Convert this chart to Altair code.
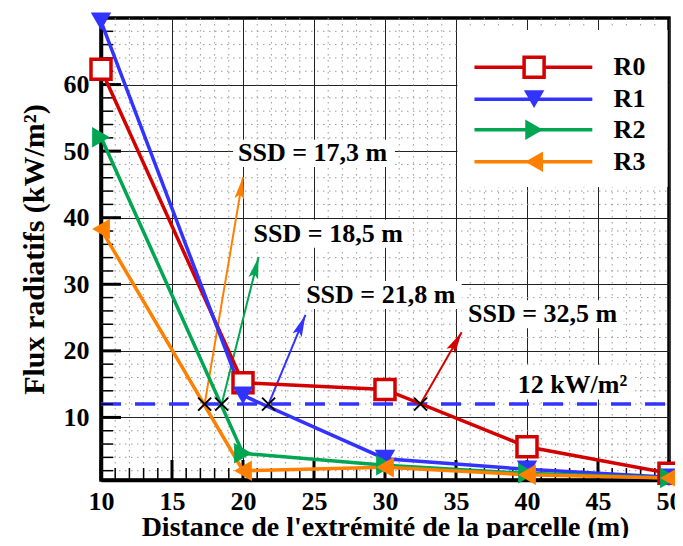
import altair as alt
import pandas as pd
import numpy as np

# ---------------- data ----------------
x_vals = [10, 20, 30, 40, 50]
r0 = [62.3, 15.2, 14.2, 5.6, 1.6]
r1 = [69.5, 13.3, 3.8, 2.2, 1.0]
r2 = [52.1, 4.6, 2.8, 1.6, 0.9]
r3 = [38.3, 2.0, 2.5, 1.4, 0.9]
series = ["R0", "R1", "R2", "R3"]
colors = ["#d40000", "#3333ff", "#00a651", "#ff8000"]
shapes = ["square", "triangle-down", "triangle-right", "triangle-left"]

threshold = 12
ssd = [17.3, 18.5, 21.8, 32.5]
ssd_colors = ["#ff8000", "#00a651", "#3333ff", "#d40000"]
arrow_tip_x = [20.0, 21.1, 24.4, 35.4]
arrow_tip_y = [46.1, 34.1, 25.4, 22.8]

ann_text = ["SSD = 17,3 m", "SSD = 18,5 m", "SSD = 21,8 m", "SSD = 32,5 m", "12 kW/m²"]
ann_x = [24.9, 26.0, 29.7, 41.1, 43.2]
ann_y = [49.7, 37.6, 28.4, 25.5, 14.9]
# white boxes behind texts + legend box (data units)
box_x1 = [19.3, 20.5, 24.0, 35.4, 38.8, 35.1]
box_x2 = [30.7, 31.6, 35.4, 46.8, 47.4, 49.9]
box_y1 = [47.6, 35.5, 26.3, 23.4, 12.7, 44.6]
box_y2 = [51.7, 39.7, 30.5, 27.6, 17.9, 68.2]

leg_y = [62.6, 57.8, 53.2, 48.4]
leg_x1, leg_x2, leg_sym_x, leg_txt_x = 36.3, 44.6, 40.5, 46.1

x_ticks = [10, 15, 20, 25, 30, 35, 40, 45, 50]
y_ticks = [10, 20, 30, 40, 50, 60]
x_minor = [v for v in range(11, 50) if v % 5 != 0]
y_minor = [v for v in range(2, 70, 2) if v % 10 != 0]

# ---------------- layout ----------------
W, H = 568, 462
XMIN, XMAX, YMIN, YMAX = 10, 50, 0.6, 70
xs = alt.Scale(domain=[XMIN, XMAX], nice=False, zero=False)
ys = alt.Scale(domain=[YMIN, YMAX], nice=False, zero=False)
FONT = "Liberation Serif"
px_x = W / (XMAX - XMIN)
px_y = H / (YMAX - YMIN)

rows = []
for name, vals in zip(series, [r0, r1, r2, r3]):
    for xv, yv in zip(x_vals, vals):
        rows.append({"serie": name, "x": xv, "y": yv})
df = pd.DataFrame(rows)

color_scale = alt.Scale(domain=series, range=colors)
shape_scale = alt.Scale(domain=series, range=shapes)

axis_x = alt.Axis(values=x_ticks, grid=True, gridColor="#222", gridWidth=1,
                  ticks=False, tickSize=0, labelPadding=8, labelFlush=False,
                  title="Distance de l'extrémité de la parcelle (m)",
                  titleY=55, titleBaseline="alphabetic", titleFontSize=28,
                  domainColor="black", domainWidth=3.5)
axis_y = alt.Axis(values=y_ticks, grid=True, gridColor="#222", gridWidth=1,
                  ticks=False, tickSize=0, labelPadding=12, labelFlush=False,
                  title="Flux radiatifs (kW/m²)", titlePadding=14, titleFontSize=30,
                  domainColor="black", domainWidth=3.5)

X = lambda f: alt.X(f, scale=xs, axis=axis_x)
Y = lambda f: alt.Y(f, scale=ys, axis=axis_y)

# minor dotted grid
vminor = alt.Chart(pd.DataFrame({"v": x_minor})).mark_rule(
    color="#9a9a9a", strokeWidth=1, strokeDash=[1.5, 4.5]).encode(
    x=X("v:Q"), y=alt.value(0), y2=alt.value(H))
hminor = alt.Chart(pd.DataFrame({"v": y_minor})).mark_rule(
    color="#9a9a9a", strokeWidth=1, strokeDash=[1.5, 4.5]).encode(
    y=Y("v:Q"), x=alt.value(0), x2=alt.value(W))

# white boxes
boxes = alt.Chart(pd.DataFrame({"x1": box_x1, "x2": box_x2, "y1": box_y1, "y2": box_y2})).mark_rect(
    color="white").encode(x=X("x1:Q"), x2="x2:Q", y=Y("y1:Q"), y2="y2:Q")

# threshold dashed line
thr = alt.Chart(pd.DataFrame({"y": [threshold]})).mark_rule(
    color="#3333ff", strokeWidth=3.5, strokeDash=[20, 14]).encode(
    y=Y("y:Q"), x=alt.value(0), x2=alt.value(W))

# arrows
arr = pd.DataFrame({"sx": ssd, "sy": [threshold] * 4, "tx": arrow_tip_x, "ty": arrow_tip_y, "c": ssd_colors})
ang = np.degrees(np.arctan2((arr["tx"] - arr["sx"]) * px_x, (arr["ty"] - arr["sy"]) * px_y))
arr["ang"] = np.mod(ang, 360)
arrow_lines = alt.Chart(arr).mark_rule(strokeWidth=2).encode(
    x=X("sx:Q"), y=Y("sy:Q"), x2="tx:Q", y2="ty:Q",
    color=alt.Color("c:N", scale=None))
arrow_heads = alt.Chart(arr).mark_point(
    shape="M0,0L0.45,2L0,1.6L-0.45,2Z", filled=True, size=484, opacity=1).encode(
    x=X("tx:Q"), y=Y("ty:Q"), color=alt.Color("c:N", scale=None),
    angle=alt.Angle("ang:Q", scale=None))

# series
lines = alt.Chart(df).mark_line(strokeWidth=3.5).encode(
    x=X("x:Q"), y=Y("y:Q"),
    color=alt.Color("serie:N", scale=color_scale, legend=None))
pts0 = alt.Chart(df[df.serie == "R0"]).mark_point(
    shape="square", size=400, filled=True, fill="white", stroke="#d40000",
    strokeWidth=3.5, opacity=1).encode(x=X("x:Q"), y=Y("y:Q"))
pts = alt.Chart(df[df.serie != "R0"]).mark_point(filled=True, size=420, opacity=1).encode(
    x=X("x:Q"), y=Y("y:Q"),
    color=alt.Color("serie:N", scale=color_scale, legend=None),
    shape=alt.Shape("serie:N", scale=shape_scale, legend=None))

# crosses
crosses = alt.Chart(pd.DataFrame({"x": ssd, "y": [threshold] * 4})).mark_point(
    shape="M-1,-1L1,1M1,-1L-1,1", filled=False, size=170, color="black",
    strokeWidth=2, opacity=1).encode(x=X("x:Q"), y=Y("y:Q"))

# texts
texts = alt.Chart(pd.DataFrame({"t": ann_text, "x": ann_x, "y": ann_y})).mark_text(
    font=FONT, fontWeight="bold", fontSize=26, color="black",
    align="center", baseline="middle").encode(x=X("x:Q"), y=Y("y:Q"), text="t:N")

# custom legend
leg = pd.DataFrame({"serie": series, "y": leg_y, "x1": [leg_x1] * 4, "x2": [leg_x2] * 4,
                    "xs": [leg_sym_x] * 4, "xt": [leg_txt_x] * 4})
leg_lines = alt.Chart(leg).mark_rule(strokeWidth=3.5).encode(
    x=X("x1:Q"), x2="x2:Q", y=Y("y:Q"),
    color=alt.Color("serie:N", scale=color_scale, legend=None))
leg_p0 = alt.Chart(leg[leg.serie == "R0"]).mark_point(
    shape="square", size=400, filled=True, fill="white", stroke="#d40000",
    strokeWidth=3.5, opacity=1).encode(x=X("xs:Q"), y=Y("y:Q"))
leg_p = alt.Chart(leg[leg.serie != "R0"]).mark_point(filled=True, size=420, opacity=1).encode(
    x=X("xs:Q"), y=Y("y:Q"),
    color=alt.Color("serie:N", scale=color_scale, legend=None),
    shape=alt.Shape("serie:N", scale=shape_scale, legend=None))
leg_t = alt.Chart(leg).mark_text(font=FONT, fontWeight="bold", fontSize=26, color="black",
                                 align="left", baseline="middle").encode(
    x=X("xt:Q"), y=Y("y:Q"), text="serie:N")

# inward ticks
ty_major = alt.Chart(pd.DataFrame({"v": y_ticks})).mark_rule(color="black", strokeWidth=3).encode(
    y=Y("v:Q"), x=alt.value(0), x2=alt.value(20))
ty_minor = alt.Chart(pd.DataFrame({"v": y_minor})).mark_rule(color="black", strokeWidth=1.5).encode(
    y=Y("v:Q"), x=alt.value(0), x2=alt.value(12))
tx_major = alt.Chart(pd.DataFrame({"v": x_ticks})).mark_rule(color="black", strokeWidth=3).encode(
    x=X("v:Q"), y=alt.value(H), y2=alt.value(H - 20))
tx_minor = alt.Chart(pd.DataFrame({"v": x_minor})).mark_rule(color="black", strokeWidth=1.5).encode(
    x=X("v:Q"), y=alt.value(H), y2=alt.value(H - 12))

chart = alt.layer(
    vminor, hminor, boxes, thr, arrow_lines, arrow_heads,
    ty_major, ty_minor, tx_major, tx_minor,
    lines, pts0, pts, crosses, texts, leg_lines, leg_p0, leg_p, leg_t
).properties(
    width=W, height=H,
    autosize=alt.AutoSizeParams(type="none"),
    padding={"left": 93, "top": 10, "right": 6, "bottom": 58},
).configure_view(
    stroke="black", strokeWidth=3.5
).configure_axis(
    labelFont=FONT, labelFontWeight="bold", labelFontSize=26, labelColor="black",
    titleFont=FONT, titleFontWeight="bold", titleColor="black",
)

chart.save("out.html", embed_options={"renderer": "svg", "actions": False})
